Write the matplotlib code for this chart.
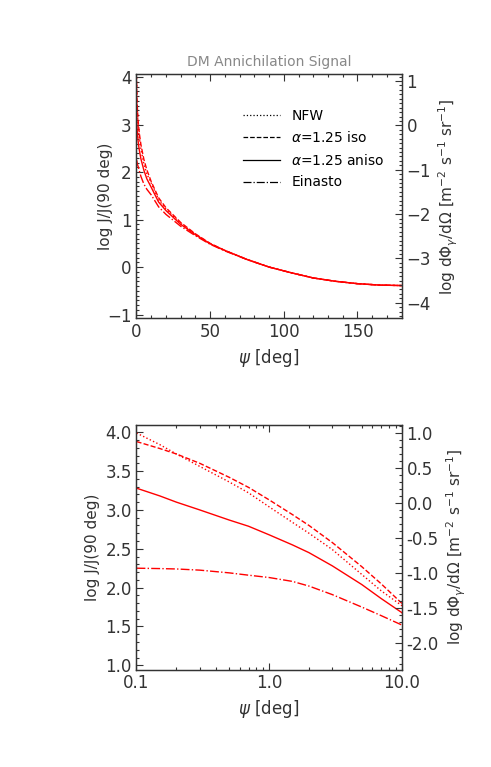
import matplotlib
matplotlib.use("Agg")
import matplotlib.pyplot as plt
from matplotlib.lines import Line2D
from matplotlib.ticker import MultipleLocator, FixedLocator, NullFormatter, FormatStrFormatter

# --- data: log J/J(90 deg) vs psi [deg] ---
psi = [0.1, 0.15, 0.2, 0.3, 0.5, 0.7, 1.0, 1.5, 2.0, 3.0, 5.0, 7.0, 10.0,
       15.0, 20.0, 30.0, 40.0, 50.0, 60.0, 75.0, 90.0, 105.0, 120.0, 135.0,
       150.0, 165.0, 180.0]
nfw = [3.99, 3.84, 3.72, 3.56, 3.36, 3.22, 3.04, 2.84, 2.70, 2.49, 2.17, 1.96, 1.77,
       1.42, 1.22, 0.92, 0.69, 0.49, 0.35, 0.16, 0.00, -0.12, -0.23, -0.30,
       -0.35, -0.38, -0.39]
iso = [3.88, 3.79, 3.72, 3.60, 3.42, 3.29, 3.13, 2.94, 2.80, 2.58, 2.27, 2.05, 1.80,
       1.46, 1.25, 0.94, 0.70, 0.50, 0.35, 0.16, 0.00, -0.12, -0.23, -0.30,
       -0.35, -0.38, -0.39]
aniso = [3.28, 3.18, 3.10, 3.00, 2.87, 2.79, 2.68, 2.55, 2.45, 2.28, 2.04, 1.86, 1.68,
         1.37, 1.19, 0.90, 0.68, 0.49, 0.35, 0.16, 0.00, -0.12, -0.23, -0.30,
         -0.35, -0.38, -0.39]
einasto = [2.25, 2.245, 2.24, 2.225, 2.19, 2.16, 2.13, 2.08, 2.02, 1.91, 1.75, 1.64, 1.52,
           1.27, 1.11, 0.86, 0.66, 0.48, 0.34, 0.16, 0.00, -0.12, -0.23, -0.30,
           -0.35, -0.38, -0.39]

labels = ['NFW', r'$\alpha$=1.25 iso', r'$\alpha$=1.25 aniso', 'Einasto']
styles = [':', '--', '-', '-.']
series = [nfw, iso, aniso, einasto]

plt.rcParams['mathtext.fontset'] = 'dejavusans'
axcol = '#333333'
red = '#ff0000'

fig = plt.figure(figsize=(4.91, 7.67), dpi=100)
ax1 = fig.add_axes([0.278, 0.585, 0.540, 0.318])
ax2 = fig.add_axes([0.278, 0.127, 0.540, 0.319])


def style_axes(ax, fs=12):
    for s in ax.spines.values():
        s.set_color(axcol)
        s.set_linewidth(0.9)
    ax.tick_params(which='both', direction='in', colors=axcol, labelsize=fs,
                   top=True, right=False, width=0.8)
    ax.tick_params(which='major', length=5)
    ax.tick_params(which='minor', length=2.5)


# --- top panel ---
for y, ls in zip(series, styles):
    ax1.plot(psi, y, color=red, ls=ls, lw=1.0)
ax1.set_xlim(0, 180)
ax1.set_ylim(-1.08, 4.06)
ax1.xaxis.set_major_locator(MultipleLocator(50))
ax1.xaxis.set_minor_locator(MultipleLocator(10))
ax1.yaxis.set_major_locator(MultipleLocator(1))
ax1.yaxis.set_minor_locator(MultipleLocator(0.1))
style_axes(ax1)
ax1.set_xlabel(r'$\psi$ [deg]', fontsize=12, color=axcol)
ax1.set_ylabel('log J/J(90 deg)', fontsize=11, color=axcol)
ax1.yaxis.set_label_coords(-0.09, 0.5)
ax1.set_title('DM Annichilation Signal', fontsize=10, color='#888888', pad=6)

handles = [Line2D([], [], color='black', ls=ls, lw=0.9) for ls in styles]
ax1.legend(handles, labels, loc='upper left', bbox_to_anchor=(0.40, 0.86),
           frameon=False, fontsize=10, handlelength=2.7, handletextpad=0.8,
           labelspacing=0.55, borderpad=0, borderaxespad=0)

r1 = ax1.twinx()
r1.set_ylim(-4.35, 1.15)
r1.yaxis.set_major_locator(MultipleLocator(1))
r1.yaxis.set_minor_locator(MultipleLocator(0.1))
style_axes(r1)
r1.tick_params(which='both', left=False, right=True, top=False)
r1.set_ylabel(r'log d$\Phi_\gamma$/d$\Omega$ [m$^{-2}$ s$^{-1}$ sr$^{-1}$]',
              fontsize=11, color=axcol)

# --- bottom panel ---
for y, ls in zip(series, styles):
    ax2.plot(psi, y, color=red, ls=ls, lw=1.0)
ax2.set_xscale('log')
ax2.set_xlim(0.1, 10)
ax2.set_ylim(0.945, 4.094)
ax2.xaxis.set_major_locator(FixedLocator([0.1, 1.0, 10.0]))
ax2.set_xticklabels(['0.1', '1.0', '10.0'])
ax2.xaxis.set_minor_locator(FixedLocator([k * d for d in (0.1, 1.0) for k in range(2, 10)]))
ax2.xaxis.set_minor_formatter(NullFormatter())
ax2.yaxis.set_major_locator(MultipleLocator(0.5))
ax2.yaxis.set_minor_locator(MultipleLocator(0.1))
ax2.yaxis.set_major_formatter(FormatStrFormatter('%.1f'))
style_axes(ax2)
ax2.set_xlabel(r'$\psi$ [deg]', fontsize=12, color=axcol)
ax2.set_ylabel('log J/J(90 deg)', fontsize=11, color=axcol)

r2 = ax2.twinx()
r2.set_ylim(-2.38, 1.11)
r2.yaxis.set_major_locator(MultipleLocator(0.5))
r2.yaxis.set_minor_locator(MultipleLocator(0.1))
r2.yaxis.set_major_formatter(FormatStrFormatter('%.1f'))
style_axes(r2)
r2.tick_params(which='both', left=False, right=True, top=False)
r2.set_ylabel(r'log d$\Phi_\gamma$/d$\Omega$ [m$^{-2}$ s$^{-1}$ sr$^{-1}$]',
              fontsize=11, color=axcol)

fig.savefig('out.png', dpi=100)
